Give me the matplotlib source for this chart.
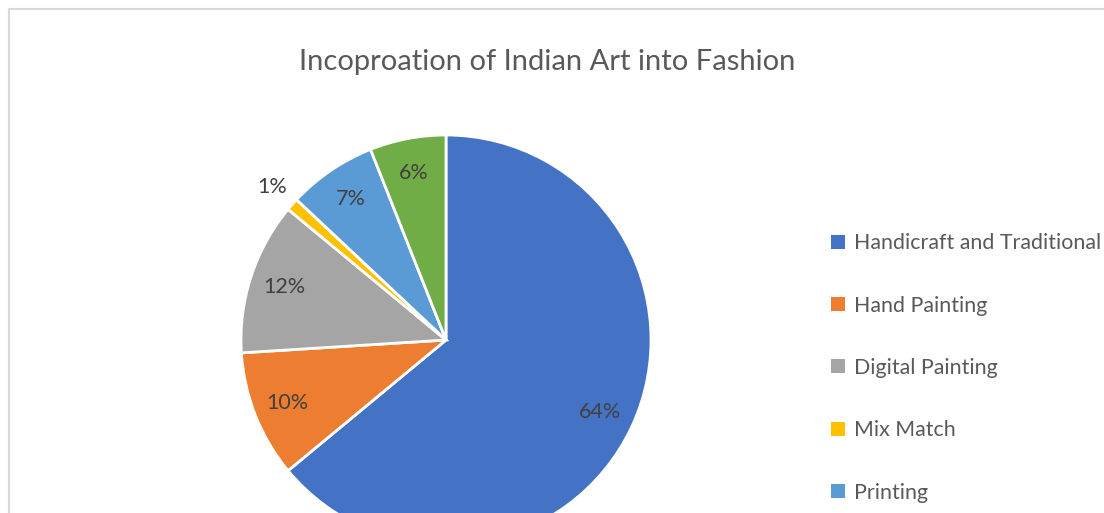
import matplotlib
matplotlib.use("Agg")
import matplotlib.pyplot as plt
from matplotlib.patches import Rectangle, Patch
import numpy as np

categories = ["Handicraft and Traditional", "Hand Painting", "Digital Painting",
              "Mix Match", "Printing", "Others"]
values = [64, 10, 12, 1, 7, 6]
colors = ["#4472C4", "#ED7D31", "#A5A5A5", "#FFC000", "#5B9BD5", "#70AD47"]
title = "Incoproation of Indian Art into Fashion"

W, H = 1104, 513
fig = plt.figure(figsize=(W / 100, H / 100), dpi=100)
fig.patch.set_facecolor("white")

# chart border (extends beyond the cropped image)
fig.patches.append(Rectangle((9 / W, -0.5), 1.5, (H - 9) / H + 0.5, transform=fig.transFigure,
                             fill=False, edgecolor="#D9D9D9", linewidth=1.5))

ax = fig.add_axes([0, 0, 1, 1])
ax.set_xlim(0, W)
ax.set_ylim(0, H)
ax.set_aspect("equal")
ax.axis("off")

cx, cy, r = 446, H - 340, 205
wedges, texts, autotexts = ax.pie(values, colors=colors, startangle=90, counterclock=False,
                                  center=(cx, cy), radius=r, autopct="%1.0f%%",
                                  pctdistance=0.83, labeldistance=None,
                                  wedgeprops=dict(edgecolor="white", linewidth=2.0),
                                  textprops=dict(color="#404040", fontsize=15.5, family="Lato"))
ax.set_xlim(0, W)
ax.set_ylim(0, H)

# small slice label placed outside
for w, t, v in zip(wedges, autotexts, values):
    if v < 3:
        ang = np.deg2rad((w.theta1 + w.theta2) / 2)
        t.set_position((cx + 1.13 * r * np.cos(ang), cy + 1.13 * r * np.sin(ang)))

fig.text(547 / W, 1 - 62 / H, title, ha="center", va="center", fontsize=21,
         color="#595959", family="Lato")

# the legend continues below the cropped frame; only entries inside the frame are drawn
handles = [Patch(facecolor=c, edgecolor="none") for c in colors]
n_vis = 5
leg = fig.legend(handles[:n_vis], categories[:n_vis], loc="upper left",
                 bbox_to_anchor=(812 / W, 1 - 214 / H),
                 frameon=False, handlelength=0.62, handleheight=0.62, handletextpad=0.45,
                 labelspacing=1.98, prop=dict(family="Lato", size=15.4))
for t in leg.get_texts():
    t.set_color("#595959")

fig.savefig("out.png", dpi=100)
